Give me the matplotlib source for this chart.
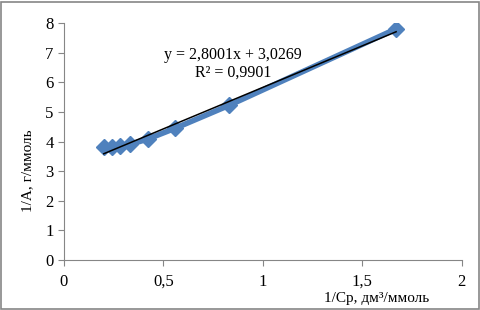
#linearized isotherm plot, 1/A vs 1/Cp
import matplotlib.pyplot as plt
import numpy as np

inv_cp = [0.20, 0.24, 0.28, 0.33, 0.42, 0.56, 0.83, 1.67]
inv_a = [3.80, 3.83, 3.85, 3.90, 4.08, 4.45, 5.22, 7.80]
slope = 2.8001
intercept = 3.0269
r2 = 0.9901
x_ticks = [0, 0.5, 1, 1.5, 2]
x_tick_labels = ['0', '0,5', '1', '1,5', '2']
y_ticks = [0, 1, 2, 3, 4, 5, 6, 7, 8]

plt.rcParams['font.family'] = ['Liberation Serif', 'DejaVu Serif']

fig = plt.figure(figsize=(4.81, 3.10), dpi=100)
ax = fig.add_axes([0.133, 0.161, 0.827, 0.765])

#data series
ax.plot(inv_cp, inv_a, color='#4F81BD', linewidth=4, marker='D', markersize=8,
        markeredgecolor='#4F81BD', zorder=2)

#linear trend line
xs = np.array([min(inv_cp), max(inv_cp)])
ax.plot(xs, slope * xs + intercept, color='black', linewidth=1.1, zorder=3)

ax.text(0.85, 6.93, 'y = 2,8001x + 3,0269', ha='center', va='center', fontsize=11.5)
ax.text(0.85, 6.32, 'R² = 0,9901', ha='center', va='center', fontsize=11.5)

ax.set_xlim(0, 2)
ax.set_ylim(0, 8)
ax.set_xticks(x_ticks)
ax.set_xticklabels(x_tick_labels)
ax.set_yticks(y_ticks)
for side in ['top', 'right']:
    ax.spines[side].set_visible(False)
for side in ['left', 'bottom']:
    ax.spines[side].set_color('#868686')
ax.tick_params(direction='out', length=4, color='#868686', labelsize=12)
ax.tick_params(axis='x', pad=6)

fig.text(0.058, 0.448, '1/A, г/ммоль', rotation=90, ha='center', va='center', fontsize=11)
fig.text(0.784, 0.038, '1/Cp, дм³/ммоль', ha='center', va='center', fontsize=11)

#grey frame around the chart
fig.patches.append(plt.Rectangle((0.002, 0.003), 0.994, 0.992, transform=fig.transFigure,
                                 fill=False, edgecolor='#868686', linewidth=1.2))

plt.savefig('out.png', dpi=100)
